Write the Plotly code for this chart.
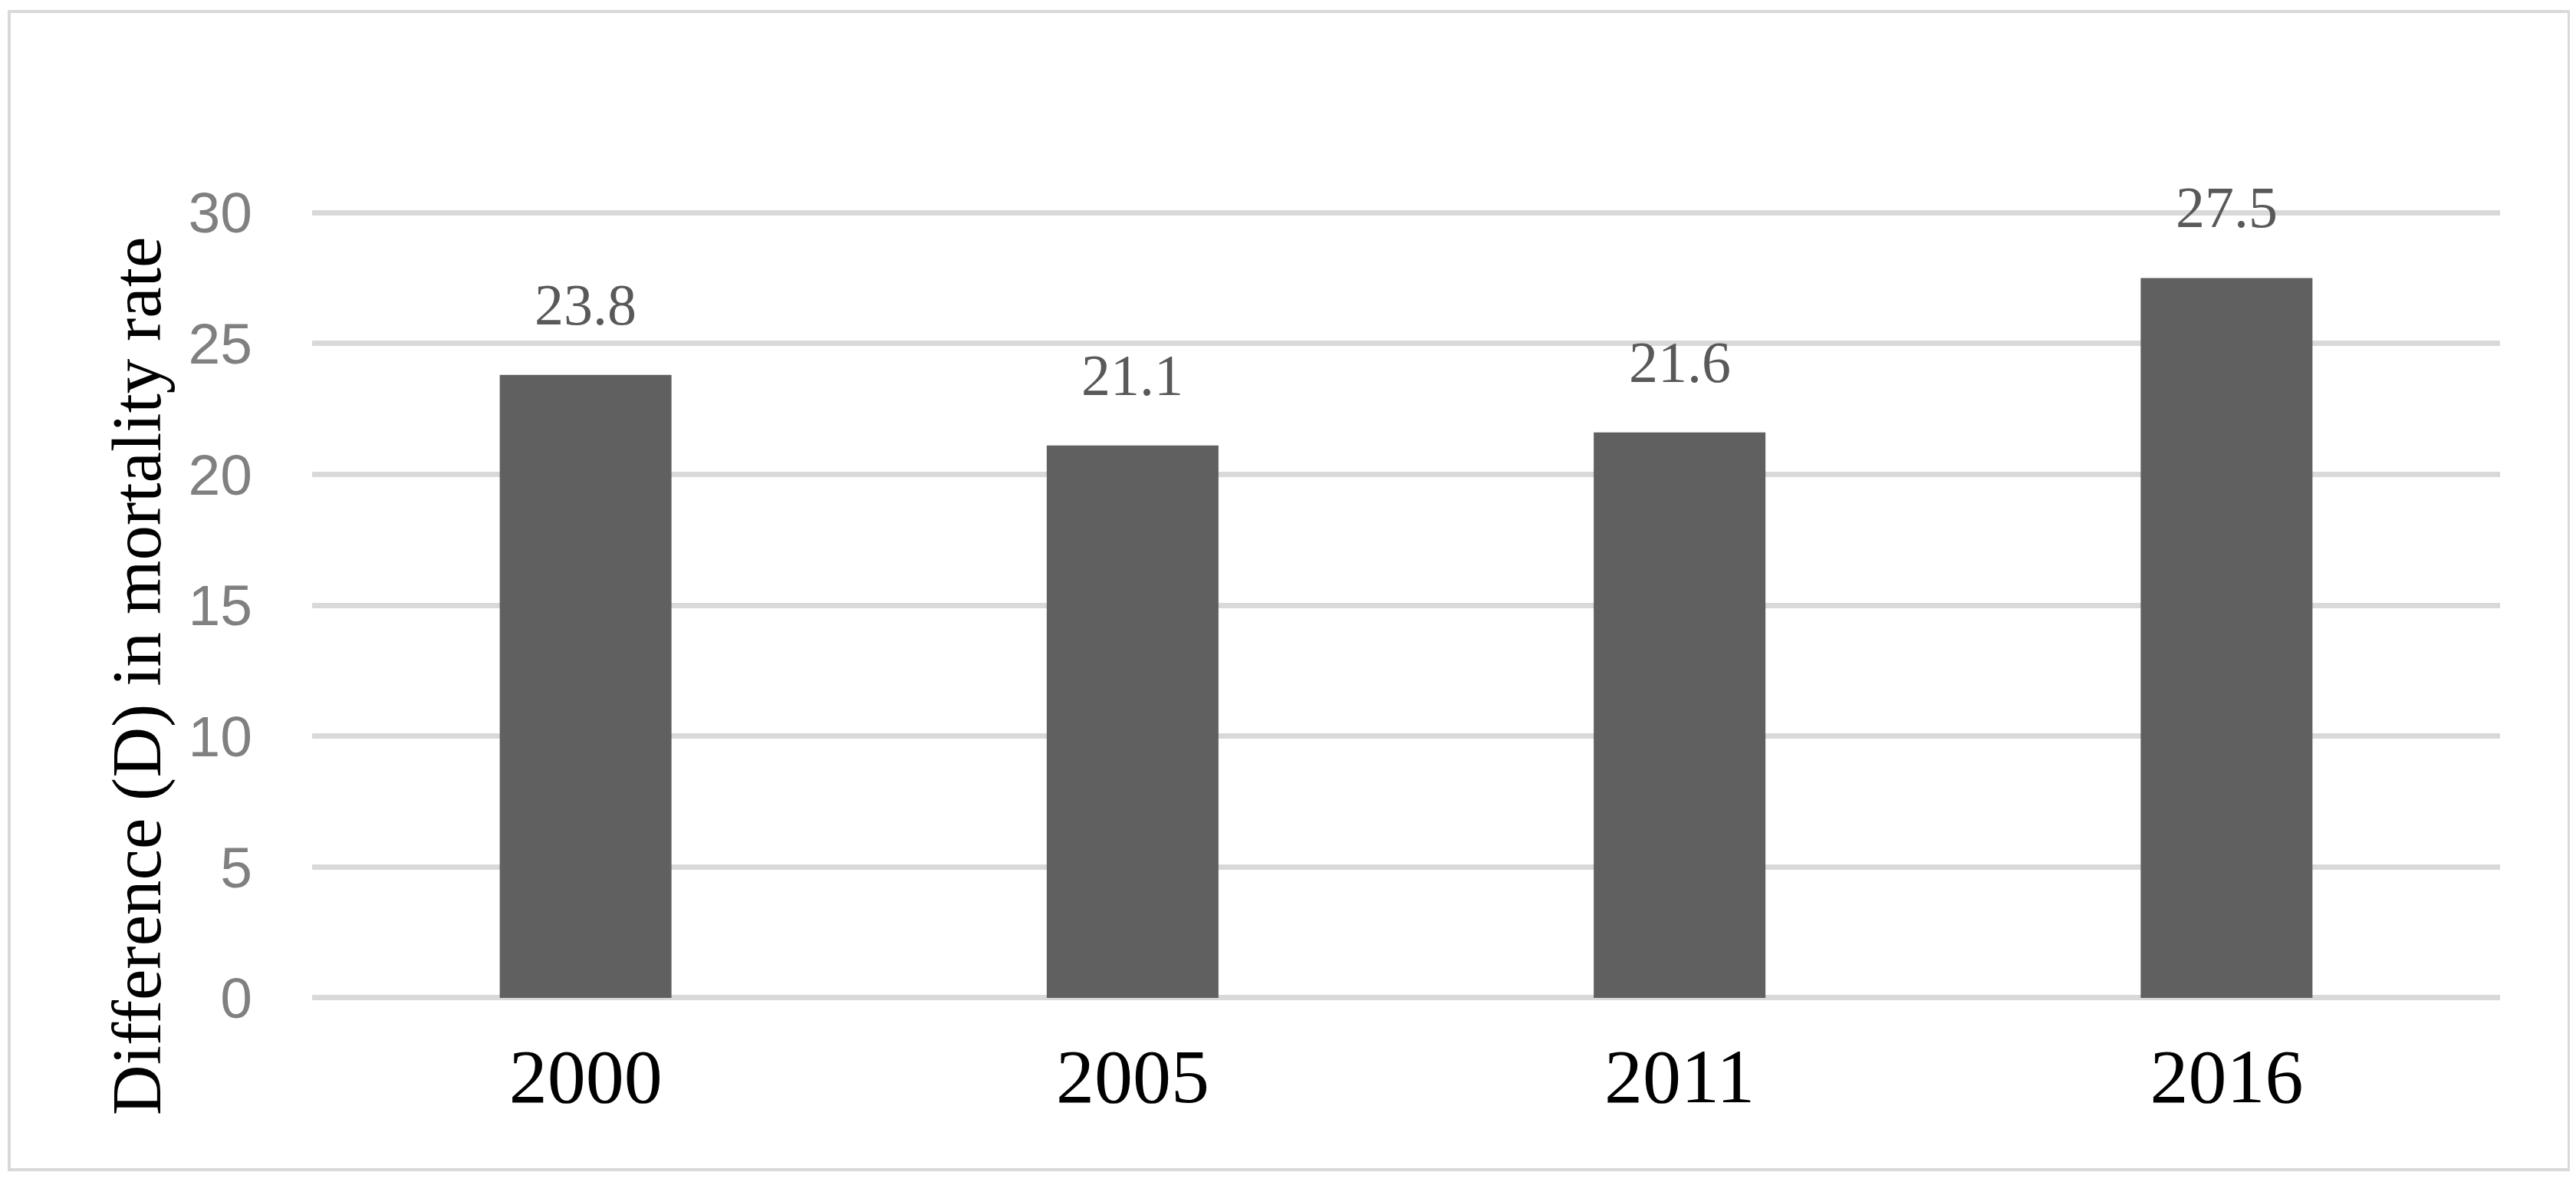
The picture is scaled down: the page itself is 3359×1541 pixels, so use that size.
import plotly.graph_objects as go

# data
years = ["2000", "2005", "2011", "2016"]
diff_values = [23.8, 21.1, 21.6, 27.5]
y_ticks = [0, 5, 10, 15, 20, 25, 30]

W, H = 3359, 1541
OFF = 8                             # page body margin shifts the figure by 8px
Y0_PX, Y30_PX = 1301 - OFF, 277 - OFF
Y_LO, Y_HI = -0.15, 30.15          # tiny pad so the 0 and 30 gridlines are drawn
UNIT = (Y0_PX - Y30_PX) / 30        # pixels per unit on the y axis
L = 407 - OFF
R = W - (3260 - OFF)
T = round(Y30_PX - (Y_HI - 30) * UNIT)
B = round(H - Y0_PX - (0 - Y_LO) * UNIT)
plot_w = W - L - R
plot_h = H - T - B


def px_to_paper_x(px):
    return (px - OFF - L) / plot_w


def px_to_paper_y(py):
    return (H - B - (py - OFF)) / plot_h


fig = go.Figure()
fig.add_trace(go.Bar(
    x=years,
    y=diff_values,
    marker=dict(color="#606060", line=dict(width=0)),
    hoverinfo="x+y",
))

# value labels above bars (x given as category index)
for i, v in enumerate(diff_values):
    fig.add_annotation(
        x=i, y=v, text=f"{v:.1f}", showarrow=False,
        yanchor="bottom", yshift=48,
        font=dict(family="Liberation Serif", size=76, color="#595959"),
    )

# rotated y-axis title
fig.add_annotation(
    xref="paper", yref="paper",
    x=px_to_paper_x(178), y=px_to_paper_y(882),
    text="Difference (D) in mortality rate", textangle=-90, showarrow=False,
    xanchor="center", yanchor="middle",
    font=dict(family="Liberation Serif", size=91, color="black"),
)

# outer chart border
fig.add_shape(
    type="rect", xref="paper", yref="paper",
    x0=px_to_paper_x(12), x1=px_to_paper_x(3350),
    y0=px_to_paper_y(1525), y1=px_to_paper_y(15),
    line=dict(color="#d9d9d9", width=4), fillcolor="rgba(0,0,0,0)",
)

fig.update_layout(
    width=W, height=H,
    margin=dict(l=L, r=R, t=T, b=B, pad=0),
    plot_bgcolor="white", paper_bgcolor="white",
    bargap=0.686,
    showlegend=False,
    xaxis=dict(
        type="category", range=[-0.5, len(years) - 0.5], automargin=False,
        showgrid=False, showline=False, zeroline=False, ticks="",
        tickfont=dict(family="Liberation Serif", size=100, color="black"),
        ticklabelstandoff=30,
    ),
    yaxis=dict(
        range=[Y_LO, Y_HI], tickvals=y_ticks, automargin=False,
        showgrid=True, gridcolor="#d9d9d9", gridwidth=7,
        zeroline=False, showline=False, ticks="",
        tickfont=dict(family="Liberation Sans", size=75, color="#808080"),
        ticklabelstandoff=77,
    ),
)

fig.write_html("out.html")
